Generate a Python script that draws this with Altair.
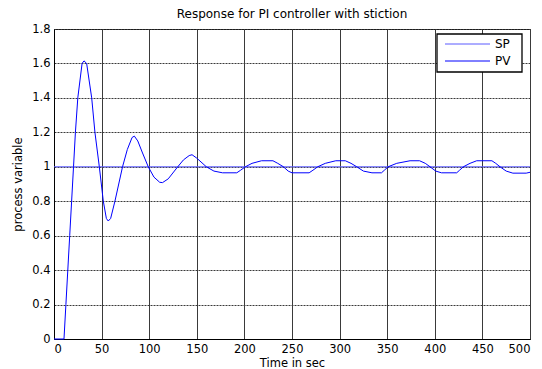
import altair as alt
import pandas as pd

# Set point
sp_t = [0, 500]
sp_v = [1.0, 1.0]

# Process variable
pv_t = [0, 10.5, 12.5, 14.5, 16.5, 18.5, 20.5, 22.5, 25, 29.5, 31.5, 34.3, 39.6, 43, 47.6,
        51.8, 55, 57, 59.5, 64, 72, 77, 82, 84.4, 88, 93, 99, 105, 111, 114, 120, 130,
        136, 142, 145, 150, 160, 168, 177, 192, 196, 201, 208, 218, 230, 235, 241, 246,
        250, 268, 272, 277, 285, 296, 306, 312, 318, 325, 334, 344, 347, 351, 360, 374,
        384, 390, 395, 401, 407, 423, 426, 430, 437, 444, 460, 464, 468.5, 475, 482, 496, 500]
pv_v = [0, 0, 0.2, 0.4, 0.6, 0.8, 1.0, 1.2, 1.4, 1.6, 1.615, 1.6, 1.4, 1.2, 1.0,
        0.8, 0.7, 0.685, 0.7, 0.8, 1.0, 1.1, 1.17, 1.178, 1.15, 1.08, 1.0, 0.94, 0.91, 0.908, 0.93, 1.0,
        1.04, 1.065, 1.07, 1.05, 1.0, 0.975, 0.965, 0.965, 0.98, 1.0, 1.02, 1.035, 1.035, 1.02, 1.0, 0.975,
        0.965, 0.965, 0.98, 1.0, 1.02, 1.035, 1.035, 1.02, 1.0, 0.975, 0.965, 0.965, 0.98, 1.0, 1.02, 1.035,
        1.035, 1.02, 1.0, 0.975, 0.965, 0.965, 0.98, 1.0, 1.02, 1.035, 1.035, 1.02, 1.0, 0.975, 0.963, 0.963, 0.968]

series = ["SP", "PV"]
colors = ["#5a5aff", "#0000ff"]
x_ticks = [0, 50, 100, 150, 200, 250, 300, 350, 400, 450, 500]
y_ticks = [0, 0.2, 0.4, 0.6, 0.8, 1, 1.2, 1.4, 1.6, 1.8]

rows = []
for i, (t, v) in enumerate(zip(sp_t, sp_v)):
    rows.append({"t": t, "v": v, "s": "SP", "o": i})
for i, (t, v) in enumerate(zip(pv_t, pv_v)):
    rows.append({"t": t, "v": v, "s": "PV", "o": i})
df = pd.DataFrame(rows)
leg_df = pd.DataFrame({"s": series})
box_df = pd.DataFrame({"k": [0]})

FONT = "DejaVu Sans"
color_scale = alt.Scale(domain=series, range=colors)

lines = alt.Chart(df).mark_line(strokeWidth=1).encode(
    x=alt.X("t:Q", scale=alt.Scale(domain=[0, 500], nice=False),
            axis=alt.Axis(values=x_ticks, title="Time in sec", grid=True,
                          gridColor="#3a3a3a", gridWidth=1, ticks=False,
                          labelPadding=4, titlePadding=3, format="d")),
    y=alt.Y("v:Q", scale=alt.Scale(domain=[0, 1.8], nice=False),
            axis=alt.Axis(values=y_ticks, title="process variable", grid=True,
                          gridColor="#3a3a3a", gridWidth=1, gridDash=[2, 1], ticks=False,
                          labelPadding=4, titlePadding=8, format="~g")),
    color=alt.Color("s:N", scale=color_scale, legend=None),
    order="o:Q",
)

box = alt.Chart(box_df).mark_rect(fill="white", stroke="black", strokeWidth=1.3).encode(
    x=alt.value(383), x2=alt.value(468), y=alt.value(5), y2=alt.value(43)
)

leg_y = alt.Y("s:N", scale=alt.Scale(type="point", domain=series, range=[15, 32], padding=0),
              axis=None)

leg_lines = alt.Chart(leg_df).mark_rule(strokeWidth=1).encode(
    x=alt.value(391), x2=alt.value(436), y=leg_y,
    color=alt.Color("s:N", scale=color_scale, legend=None),
)

leg_text = alt.Chart(leg_df).mark_text(
    align="left", baseline="middle", font=FONT, fontSize=12, color="black"
).encode(x=alt.value(441), y=leg_y, text="s:N")

chart = alt.layer(lines, box, leg_lines, leg_text).resolve_scale(
    y="independent"
).properties(
    width=476, height=310,
    title=alt.TitleParams("Response for PI controller with stiction", fontSize=12,
                          font=FONT, fontWeight="normal", color="black", offset=2),
    autosize=alt.AutoSizeParams(type="none"),
    padding={"left": 54, "top": 29, "right": 12, "bottom": 30},
).configure_view(
    stroke="black", strokeWidth=1
).configure_axis(
    labelFont=FONT, labelFontSize=11.5, labelColor="black",
    titleFont=FONT, titleFontSize=11.5, titleFontWeight="normal", titleColor="black",
    domainColor="black", domainWidth=1,
)

chart.save("out.html", embed_options={"renderer": "svg", "actions": False})
